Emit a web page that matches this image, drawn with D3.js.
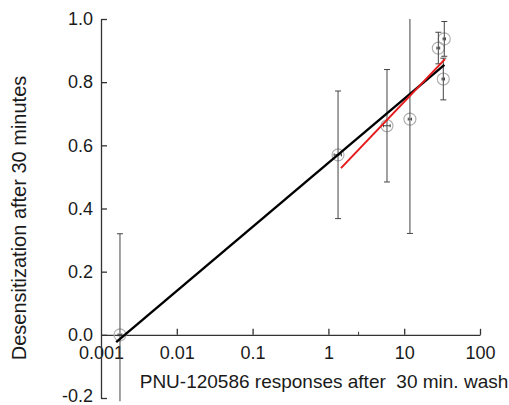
<!DOCTYPE html>
<html>
<head>
<meta charset="utf-8">
<script src="https://cdn.jsdelivr.net/npm/d3@7"></script>
<style>
  body { margin: 0; background: #fff; }
  text { font-family: "Liberation Sans", Arial, sans-serif; fill: #1a1a1a; }
</style>
</head>
<body>
<div id="chart"></div>
<script>
var chartWidth = 509;
var chartHeight = 405;

// measured points: response after wash (x), desensitization (y)
var xValues = [0.00178, 1.34, 5.93, 11.9, 28.2, 33.8, 32.8];
var yValues = [0.0, 0.57, 0.662, 0.683, 0.908, 0.937, 0.81];
var yErr = [0.32, 0.202, 0.178, 0.362, 0.05, 0.055, 0.066];
var xErr = [0.0001, 0.15, 0.6, 0.6, 1.2, 1.2, 1.2];

// fitted lines, [log10 x start, y start], [log10 x end, y end]
var blackFit = [[-2.80, -0.023], [1.53, 0.855]];
var redFit = [[0.166, 0.528], [1.538, 0.873]];

var xTicks = [0.001, 0.01, 0.1, 1, 10, 100];
var xMinorTicks = [2.5];
var yTicks = [-0.2, 0.0, 0.2, 0.4, 0.6, 0.8, 1.0];

var xLabel = 'PNU-120586 responses after \u00a030 min. wash';
var yLabel = 'Desensitization after 30 minutes';

var svg = d3.select('#chart')
    .append('svg')
    .attr('width', chartWidth)
    .attr('height', chartHeight);

var x = d3.scaleLog()
    .domain([0.001, 100])
    .range([101, 480]);

var y = d3.scaleLinear()
    .domain([-0.2, 1.0])
    .range([398, 19]);

svg.append('clipPath')
    .attr('id', 'plotClip')
    .append('rect')
    .attr('x', 95)
    .attr('y', y(1.0))
    .attr('width', 400)
    .attr('height', y(-0.21) - y(1.0));

// axes
var xAxis = svg.append('g')
    .attr('transform', 'translate(0,' + y(0) + ')')
    .call(d3.axisBottom(x)
        .tickValues(xTicks)
        .tickFormat(function (d) { return String(d); })
        .tickSizeInner(-6)
        .tickSizeOuter(0)
        .tickPadding(11));

xAxis.selectAll('.tick')
    .filter(function (d) { return d === 0.001; })
    .select('line').remove();

xAxis.selectAll('line.minor')
    .data(xMinorTicks)
    .enter()
    .append('line')
    .attr('class', 'minor')
    .attr('x1', function (d) { return x(d); })
    .attr('x2', function (d) { return x(d); })
    .attr('y1', 0)
    .attr('y2', -3)
    .attr('stroke', '#333');

var yAxis = svg.append('g')
    .attr('transform', 'translate(' + x(0.001) + ',0)')
    .call(d3.axisLeft(y)
        .tickValues(yTicks)
        .tickFormat(function (d) { return d.toFixed(1); })
        .tickSizeInner(-6)
        .tickSizeOuter(0)
        .tickPadding(8));

svg.selectAll('.domain, .tick line')
    .attr('stroke', '#333')
    .attr('stroke-width', 1.3);

svg.selectAll('.tick text')
    .style('font-size', '18px')
    .attr('fill', '#1a1a1a');

// lowest label sits at the window edge, nudge it up a little
yAxis.selectAll('.tick text')
    .filter(function (d) { return d < -0.1; })
    .attr('dy', '0.2em');

// data layer
var plot = svg.append('g').attr('clip-path', 'url(#plotClip)');

var pts = xValues.map(function (d, i) {
    return { x: d, y: yValues[i], ey: yErr[i], ex: xErr[i] };
});

plot.selectAll('circle.pt')
    .data(pts)
    .enter()
    .append('circle')
    .attr('class', 'pt')
    .attr('cx', function (d) { return x(d.x); })
    .attr('cy', function (d) { return y(d.y); })
    .attr('r', 6)
    .attr('fill', 'none')
    .attr('stroke', '#b0b0b0')
    .attr('stroke-width', 1.2);

var bars = plot.selectAll('g.ebar')
    .data(pts)
    .enter()
    .append('g')
    .attr('class', 'ebar')
    .attr('stroke', '#444')
    .attr('stroke-width', 1);

bars.append('line')
    .attr('x1', function (d) { return x(d.x); })
    .attr('x2', function (d) { return x(d.x); })
    .attr('y1', function (d) { return y(d.y - d.ey); })
    .attr('y2', function (d) { return y(d.y + d.ey); });

[1, -1].forEach(function (s) {
    bars.append('line')
        .attr('x1', function (d) { return x(d.x) - 3; })
        .attr('x2', function (d) { return x(d.x) + 3; })
        .attr('y1', function (d) { return y(d.y + s * d.ey); })
        .attr('y2', function (d) { return y(d.y + s * d.ey); });
    bars.append('line')
        .attr('x1', function (d) { return x(d.x + s * d.ex); })
        .attr('x2', function (d) { return x(d.x + s * d.ex); })
        .attr('y1', function (d) { return y(d.y) - 1.5; })
        .attr('y2', function (d) { return y(d.y) + 1.5; });
});

bars.append('line')
    .attr('x1', function (d) { return x(d.x - d.ex); })
    .attr('x2', function (d) { return x(d.x + d.ex); })
    .attr('y1', function (d) { return y(d.y); })
    .attr('y2', function (d) { return y(d.y); });

var fitLine = d3.line()
    .x(function (d) { return x(Math.pow(10, d[0])); })
    .y(function (d) { return y(d[1]); });

svg.append('path')
    .attr('d', fitLine(blackFit))
    .attr('stroke', '#000')
    .attr('stroke-width', 2.4)
    .attr('fill', 'none');

svg.append('path')
    .attr('d', fitLine(redFit))
    .attr('stroke', '#e41a1c')
    .attr('stroke-width', 2)
    .attr('fill', 'none');

// axis titles
svg.append('text')
    .attr('x', 324)
    .attr('y', 388)
    .attr('text-anchor', 'middle')
    .style('font-size', '19px')
    .text(xLabel);

svg.append('text')
    .attr('transform', 'translate(26,218) rotate(-90)')
    .attr('text-anchor', 'middle')
    .style('font-size', '20px')
    .text(yLabel);
</script>
</body>
</html>
